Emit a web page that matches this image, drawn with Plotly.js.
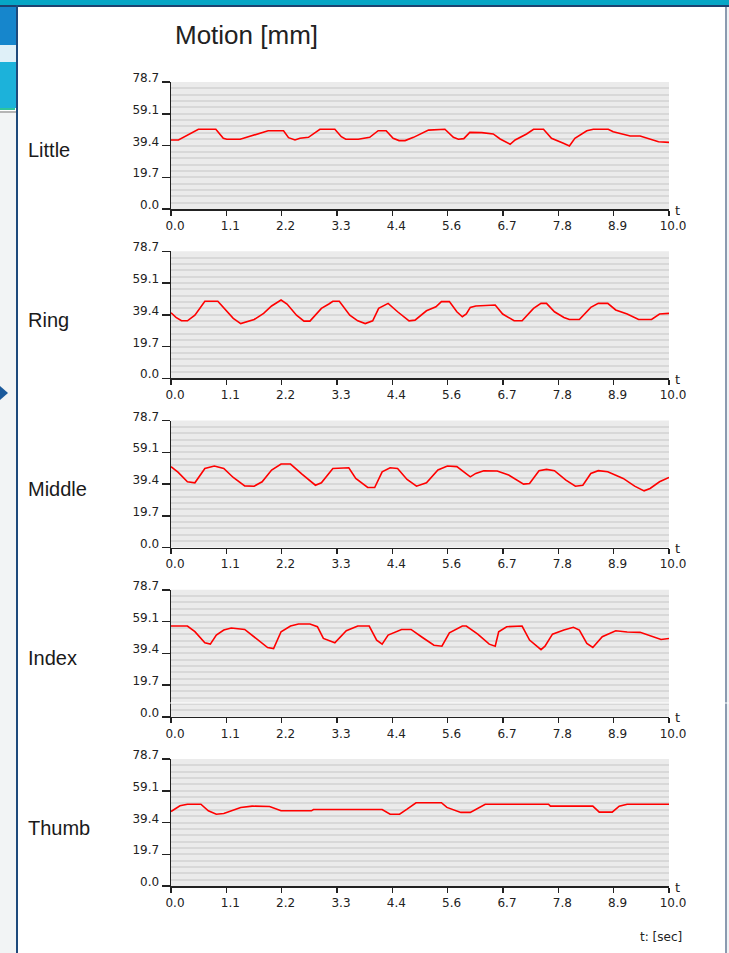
<!DOCTYPE html>
<html>
<head>
<meta charset="utf-8">
<script src="https://cdn.plot.ly/plotly-3.0.1.min.js"></script>
<style>
  html, body { margin: 0; padding: 0; background: #ffffff; }
  #chart { width: 729px; height: 953px; }
</style>
</head>
<body>
<div id="chart"></div>
<script>
// ---- Data ----
const fingers = ["Little", "Ring", "Middle", "Index", "Thumb"];

const xTickVals = [0, 10/9, 20/9, 30/9, 40/9, 50/9, 60/9, 70/9, 80/9, 10];
const xTickText = ["0.0", "1.1", "2.2", "3.3", "4.4", "5.6", "6.7", "7.8", "8.9", "10.0"];
const yTickVals = [0, 19.675, 39.35, 59.025, 78.7];
const yTickText = ["0.0", "19.7", "39.4", "59.1", "78.7"];

const littleT = [0, 0.15, 0.55, 0.90, 1.05, 1.12, 1.39, 1.95, 2.26, 2.36, 2.49, 2.59, 2.76, 2.99, 3.29, 3.42, 3.51, 3.76, 3.99, 4.16, 4.32, 4.46, 4.58, 4.70, 4.87, 5.17, 5.50, 5.67, 5.77, 5.88, 6.00, 6.24, 6.47, 6.61, 6.81, 6.91, 7.14, 7.28, 7.48, 7.64, 7.88, 8.00, 8.11, 8.35, 8.48, 8.78, 8.88, 9.22, 9.42, 9.79, 10.0];
const littleV = [42.8, 42.8, 49.4, 49.4, 43.8, 43.2, 43.2, 48.5, 48.5, 44.2, 42.8, 43.8, 44.4, 49.4, 49.4, 44.8, 43.2, 43.2, 44.4, 48.5, 48.5, 43.8, 42.4, 42.4, 44.4, 48.9, 49.4, 44.4, 43.2, 43.6, 47.5, 47.3, 46.5, 43.4, 40.1, 42.8, 46.5, 49.4, 49.4, 43.8, 40.7, 39.0, 43.8, 48.5, 49.4, 49.4, 47.9, 45.2, 45.2, 41.7, 41.3];

const ringT = [0, 0.10, 0.21, 0.33, 0.48, 0.68, 0.94, 1.10, 1.25, 1.40, 1.52, 1.67, 1.86, 2.02, 2.21, 2.33, 2.52, 2.67, 2.79, 3.02, 3.17, 3.25, 3.38, 3.59, 3.75, 3.90, 4.05, 4.17, 4.36, 4.55, 4.78, 4.90, 5.13, 5.32, 5.43, 5.59, 5.74, 5.85, 5.93, 6.01, 6.12, 6.51, 6.66, 6.89, 7.05, 7.28, 7.43, 7.54, 7.70, 7.89, 8.00, 8.20, 8.43, 8.58, 8.77, 8.93, 9.16, 9.39, 9.65, 9.81, 10.0];
const ringV = [40.6, 37.7, 35.6, 35.6, 39.1, 47.7, 47.7, 42.3, 37.1, 33.9, 35.0, 36.4, 40.2, 44.8, 48.5, 46.0, 39.1, 35.4, 35.4, 43.3, 46.0, 47.7, 47.7, 39.1, 35.6, 33.9, 35.6, 43.3, 46.4, 41.2, 35.6, 36.0, 41.8, 44.3, 47.5, 47.5, 41.2, 38.1, 39.8, 43.9, 44.8, 45.4, 39.8, 35.6, 35.6, 43.3, 46.4, 46.4, 41.2, 37.7, 36.4, 36.4, 43.9, 46.4, 46.4, 42.3, 39.8, 36.4, 36.4, 39.8, 40.2];

const middleT = [0, 0.14, 0.33, 0.48, 0.68, 0.87, 1.06, 1.25, 1.48, 1.67, 1.83, 2.02, 2.21, 2.40, 2.63, 2.90, 3.02, 3.25, 3.57, 3.71, 3.95, 4.09, 4.24, 4.40, 4.55, 4.74, 4.93, 5.13, 5.36, 5.55, 5.74, 6.01, 6.12, 6.28, 6.55, 6.78, 7.08, 7.20, 7.39, 7.54, 7.70, 7.93, 8.12, 8.27, 8.43, 8.58, 8.77, 9.08, 9.31, 9.50, 9.62, 9.81, 10.0];
const middleV = [50.1, 46.7, 40.7, 40.1, 49.0, 50.5, 49.0, 43.4, 38.2, 38.0, 40.7, 48.0, 51.7, 51.7, 45.5, 38.6, 40.1, 49.0, 49.4, 42.8, 37.2, 37.2, 46.9, 49.4, 49.0, 42.2, 38.0, 40.1, 48.0, 50.5, 50.1, 43.8, 45.9, 47.6, 47.4, 44.9, 39.3, 39.7, 47.6, 48.4, 47.6, 41.7, 38.0, 38.6, 45.9, 47.6, 46.9, 42.8, 38.0, 35.1, 36.6, 40.7, 43.4];

const indexT = [0, 0.33, 0.48, 0.68, 0.79, 0.91, 1.06, 1.21, 1.48, 1.71, 1.94, 2.06, 2.21, 2.40, 2.56, 2.79, 2.94, 3.06, 3.29, 3.52, 3.75, 3.98, 4.13, 4.24, 4.36, 4.63, 4.82, 5.05, 5.28, 5.44, 5.59, 5.85, 5.93, 6.16, 6.39, 6.51, 6.58, 6.74, 7.05, 7.20, 7.43, 7.51, 7.66, 7.89, 8.08, 8.20, 8.35, 8.47, 8.66, 8.93, 9.16, 9.42, 9.65, 9.84, 10.0];
const indexV = [56.2, 56.2, 52.7, 45.8, 45.0, 50.6, 53.7, 55.0, 54.1, 48.5, 42.9, 42.3, 52.7, 56.2, 57.5, 57.5, 55.8, 48.5, 45.8, 53.3, 56.2, 56.2, 47.5, 45.0, 50.6, 54.1, 54.1, 49.1, 44.3, 43.7, 52.0, 56.2, 56.2, 51.2, 45.0, 43.7, 52.7, 55.8, 56.2, 47.5, 41.6, 43.7, 51.2, 53.7, 55.4, 53.7, 45.4, 42.9, 49.6, 53.3, 52.5, 52.3, 50.0, 47.9, 48.5];

const thumbT = [0, 0.18, 0.33, 0.60, 0.75, 0.91, 1.06, 1.40, 1.63, 1.87, 1.98, 2.21, 2.82, 2.86, 4.24, 4.40, 4.59, 4.74, 4.92, 5.43, 5.54, 5.82, 6.01, 6.31, 7.58, 7.62, 8.47, 8.60, 8.86, 9.00, 9.16, 10.0];
const thumbV = [46.2, 49.7, 50.7, 50.7, 46.6, 44.5, 44.9, 48.7, 49.5, 49.5, 49.3, 46.6, 46.6, 47.4, 47.4, 44.5, 44.5, 47.6, 51.6, 51.6, 48.7, 45.6, 45.6, 50.7, 50.7, 49.5, 49.5, 45.8, 45.8, 49.5, 50.7, 50.7];

const seriesT = [littleT, ringT, middleT, indexT, thumbT];
const seriesV = [littleV, ringV, middleV, indexV, thumbV];

// ---- Layout geometry (pixels) ----
const W = 729, H = 953;
const plotLeft = 171, plotRight = 669;
const panelTops = [82, 251.25, 420.5, 589.75, 759];
const panelH = 127;

const px = v => v / W;
const py = v => 1 - v / H;

const traces = [];
const layout = {
  width: W, height: H,
  margin: {l: 0, r: 0, t: 0, b: 0, pad: 0},
  paper_bgcolor: "#ffffff",
  plot_bgcolor: "#ebebeb",
  showlegend: false,
  font: {family: "DejaVu Sans, sans-serif", size: 12, color: "#222222"},
  title: {
    text: "Motion [mm]",
    x: px(175), xanchor: "left", xref: "paper",
    y: py(35), yanchor: "middle", yref: "paper",
    font: {family: "Liberation Sans, Arial, sans-serif", size: 26, color: "#222222"}
  },
  annotations: [],
  shapes: []
};

fingers.forEach((name, i) => {
  const n = i === 0 ? "" : String(i + 1);
  const top = panelTops[i], bottom = top + panelH;
  traces.push({
    type: "scatter", mode: "lines",
    x: seriesT[i], y: seriesV[i],
    xaxis: "x" + n, yaxis: "y" + n,
    line: {color: "#ff0000", width: 1.6},
    hoverinfo: "skip"
  });
  layout["xaxis" + n] = {
    domain: [px(plotLeft), px(plotRight)],
    anchor: "y" + n,
    range: [0, 10],
    tickmode: "array", tickvals: xTickVals, ticktext: xTickText,
    ticks: "outside", ticklen: 5, tickwidth: 1.5, tickcolor: "#222222",
    showline: true, linecolor: "#222222", linewidth: 1.5,
    showgrid: false, zeroline: false,
    ticklabelshift: 4,
    tickfont: {family: "DejaVu Sans, sans-serif", size: 12, color: "#222222"},
    fixedrange: true
  };
  layout["yaxis" + n] = {
    domain: [py(bottom), py(top)],
    anchor: "x" + n,
    range: [0, 78.7],
    tickmode: "array", tickvals: yTickVals, ticktext: yTickText,
    ticks: "outside", ticklen: 8, tickwidth: 1.5, tickcolor: "#222222",
    showline: true, linecolor: "#222222", linewidth: 1.5,
    showgrid: true, gridcolor: "#d8d8d8", gridwidth: 2,
    zeroline: false,
    ticklabelshift: -4,
    minor: {tickmode: "linear", tick0: 0, dtick: 78.7 / 20, showgrid: true, gridcolor: "#d8d8d8", gridwidth: 2, ticks: ""},
    tickfont: {family: "DejaVu Sans, sans-serif", size: 12, color: "#222222"},
    fixedrange: true
  };
  // finger label
  layout.annotations.push({
    text: name, xref: "paper", yref: "paper",
    x: px(26), xanchor: "left", y: py((top + bottom) / 2 + 5), yanchor: "middle",
    showarrow: false,
    font: {family: "Liberation Sans, Arial, sans-serif", size: 20, color: "#1a1a1a"}
  });
  // "t" at axis end
  layout.annotations.push({
    text: "t", xref: "paper", yref: "paper",
    x: px(673), xanchor: "left", y: py(bottom + 1), yanchor: "middle",
    showarrow: false,
    font: {family: "DejaVu Sans, sans-serif", size: 13, color: "#222222"}
  });
});

layout.annotations.push({
  text: "t: [sec]", xref: "paper", yref: "paper",
  x: px(684), xanchor: "right", y: py(937), yanchor: "middle",
  showarrow: false,
  font: {family: "DejaVu Sans, sans-serif", size: 12, color: "#222222"}
});

// ---- window frame decorations ----
const rect = (x0, y0, x1, y1, color, layer) => ({
  type: "rect", xref: "paper", yref: "paper",
  x0: px(x0), x1: px(x1), y0: py(y1), y1: py(y0),
  fillcolor: color, line: {width: 0}, layer: layer || "below"
});
layout.shapes.push(
  rect(0, 113, 16, 953, "#f2f4f5"),
  rect(0, 0, 16, 45, "#1686cc"),
  rect(0, 45, 16, 62, "#dff0f8"),
  rect(0, 62, 16, 108, "#1cb2da"),
  rect(0, 108, 15, 110, "#2ec49c"),
  rect(0, 111, 16, 113, "#b5b5b5"),
  rect(0, 0, W, 5, "#06a6c6"),
  rect(0, 5, W, 7, "#1d4170"),
  rect(16, 5, 18, 953, "#1e4a7c"),
  rect(725, 7, 727, 953, "#8b9bb0"),
  rect(727, 7, 729, 953, "#f0f2f4"),
  {type: "path", xref: "paper", yref: "paper",
   path: `M ${px(0)},${py(386)} L ${px(8)},${py(393)} L ${px(0)},${py(400)} Z`,
   fillcolor: "#1b5a9c", line: {width: 0}, layer: "below"},
  rect(18, 702.5, 729, 703.5, "#ffffff", "above")
);

Plotly.newPlot("chart", traces, layout, {staticPlot: true, displayModeBar: false});
</script>
</body>
</html>
